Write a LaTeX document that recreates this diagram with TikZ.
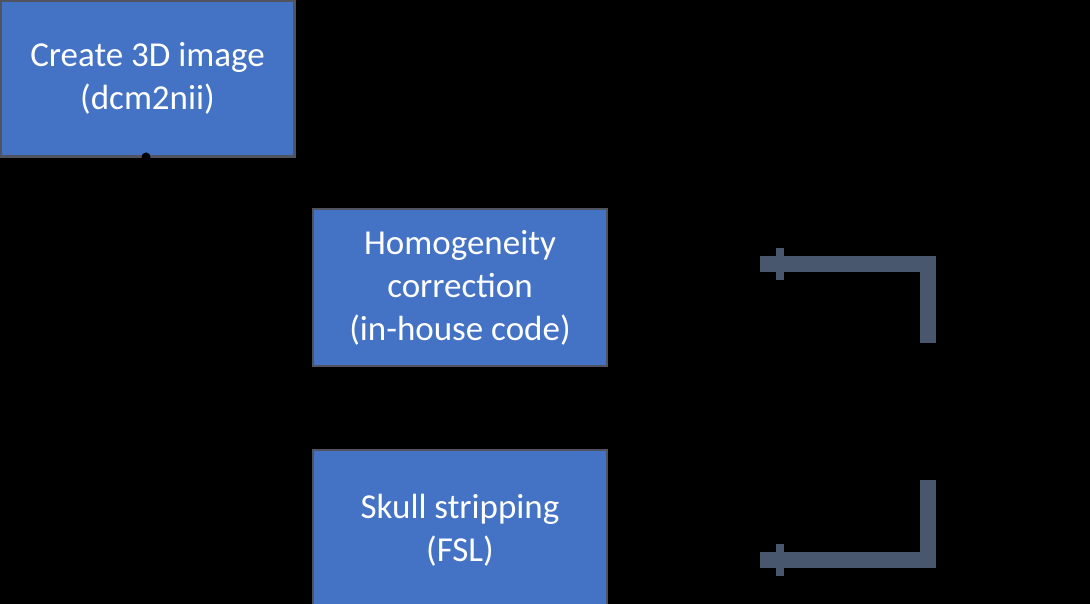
\documentclass[tikz,border=0pt]{standalone}
\usepackage{fontspec}
\setmainfont{Carlito}
\usetikzlibrary{arrows.meta}
\definecolor{boxblue}{RGB}{68,114,196}
\definecolor{boxedge}{RGB}{80,84,96}
\definecolor{slate}{RGB}{72,86,110}
\tikzset{
  stepbox/.style={draw=boxedge, line width=2.5pt, fill=boxblue, text=white,
    font=\fontsize{35}{43}\selectfont, align=center, inner sep=0pt},
  hidden/.style={draw=black, line width=2pt, -{Triangle[length=6pt,width=6pt]}},
  slateline/.style={draw=slate, line width=16pt},
  tickbar/.style={draw=slate, line width=8pt}
}
\begin{document}
\begin{tikzpicture}[x=1pt,y=-1pt]
\fill[black] (0,0) rectangle (1090,604);
\useasboundingbox (0,0) rectangle (1090,604);
\node[stepbox, minimum width=294pt, minimum height=156pt] (create) at (147.5,78.5) {Create 3D image\\(dcm2nii)};
\node[stepbox, minimum width=294pt, minimum height=157pt] (homog) at (460,287.5) {Homogeneity\\correction\\(in-house code)};
\node[stepbox, minimum width=294pt, minimum height=160pt] (skull) at (460,530) {Skull stripping\\(FSL)};
\coordinate (start) at (146,157);
\fill[black] (start) circle (4.5pt);
\draw[hidden] (start) |- (homog.west);
\draw[hidden] (start) |- (skull.west);
% slate elbow arrows on the right
\coordinate (a1) at (928,343);
\coordinate (a2) at (760,264);
\coordinate (b1) at (928,480);
\coordinate (b2) at (760,560);
\draw[slateline] (a1) |- (a2);
\draw[slateline] (b1) |- (b2);
\draw[tickbar] ([xshift=20pt,yshift=-16pt]a2) -- ([xshift=20pt,yshift=16pt]a2);
\draw[tickbar] ([xshift=20pt,yshift=-16pt]b2) -- ([xshift=20pt,yshift=16pt]b2);
\end{tikzpicture}
\end{document}
